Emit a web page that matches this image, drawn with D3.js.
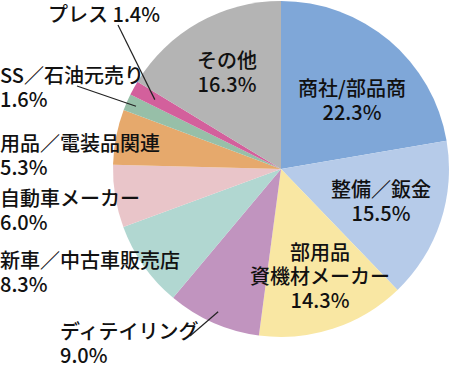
<!DOCTYPE html>
<html><head><meta charset="utf-8">
<script src="https://cdn.jsdelivr.net/npm/d3@7"></script>
<style>
html,body{margin:0;padding:0;background:#fff;}
svg{display:block;}
text{font-family:"Noto Sans CJK JP","Noto Sans",sans-serif;font-size:20px;font-weight:500;fill:#111;}
</style></head>
<body>
<svg id="chart" width="450" height="367"></svg>
<script>
// ---- data ----
const categories = ["商社/部品商","整備／鈑金","部用品資機材メーカー","ディテイリング","新車／中古車販売店","自動車メーカー","用品／電装品関連","SS／石油元売り","プレス","その他"];
const values = [22.3, 15.5, 14.3, 9.0, 8.3, 6.0, 5.3, 1.6, 1.4, 16.3];
const labelLines = [
  ["商社/部品商","22.3%"],
  ["整備／鈑金","15.5%"],
  ["部用品","資機材メーカー","14.3%"],
  ["ディテイリング","9.0%"],
  ["新車／中古車販売店","8.3%"],
  ["自動車メーカー","6.0%"],
  ["用品／電装品関連","5.3%"],
  ["SS／石油元売り","1.6%"],
  ["プレス 1.4%"],
  ["その他","16.3%"]
];
const colors = ["#7fa7d8","#b6cbe9","#f9e7a3","#c194bf","#b1d7d1","#e9c5c9","#e6a96c","#97bfa8","#d3609c","#b4b4b4"];

// ---- layout ----
const cx = 281, cy = 169, R = 168;
const svg = d3.select("#chart");
const g = svg.append("g").attr("transform", `translate(${cx},${cy})`);
const pie = d3.pie().sort(null).value(d => d)(values);
const arc = d3.arc().innerRadius(0).outerRadius(R);
const color = d3.scaleOrdinal().domain(categories).range(colors);

g.selectAll("path.slice").data(pie).enter().append("path")
  .attr("class","slice")
  .attr("d", arc)
  .attr("fill", (d,i) => color(categories[i]));

// label placement (absolute page coords): [x, firstLineCenterY, anchor]
const labelPos = [
  [352, 87, "middle"],
  [381, 188, "middle"],
  [320, 251, "middle"],
  [60, 330, "start"],
  [0, 259, "start"],
  [0, 197, "start"],
  [0, 142, "start"],
  [0, 74, "start"],
  [48, 13, "start"],
  [227, 59, "middle"]
];
const lineH = 24;

const labels = svg.append("g");
labelLines.forEach((lines, i) => {
  const [x, y, anchor] = labelPos[i];
  const t = labels.append("text")
    .attr("text-anchor", anchor)
    .attr("dominant-baseline", "central");
  lines.forEach((s, k) => {
    t.append("tspan").attr("x", x).attr("y", y + k*lineH).text(s);
  });
});

// leader lines: from near label to a point inside the slice on its mid-angle
const leaders = [
  {i: 8, from: [118, 25], r: 144},
  {i: 7, from: [77, 86], r: 158},
  {i: 3, from: [190, 336], r: 156}
];
leaders.forEach(l => {
  const d = pie[l.i];
  const a = (d.startAngle + d.endAngle) / 2;
  const px = cx + l.r * Math.sin(a), py = cy - l.r * Math.cos(a);
  svg.append("line")
    .attr("x1", l.from[0]).attr("y1", l.from[1])
    .attr("x2", px).attr("y2", py)
    .attr("stroke", "#222").attr("stroke-width", 1.2);
});
</script>
</body></html>
